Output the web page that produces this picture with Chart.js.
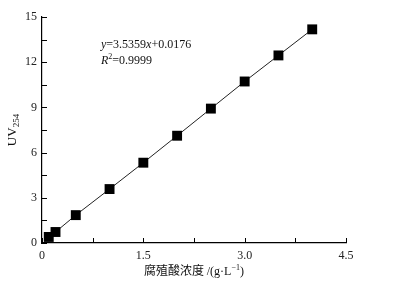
<!DOCTYPE html>
<html>
<head>
<meta charset="utf-8">
<script src="https://cdn.jsdelivr.net/npm/chart.js@4"></script>
<style>
  html, body { margin: 0; padding: 0; background: #fff; }
  #wrap { width: 393px; height: 288px; position: relative; }
</style>
</head>
<body>
<div id="wrap"><canvas id="uvChart"></canvas></div>
<script>
// Data
const concentration = [0.1, 0.2, 0.5, 1.0, 1.5, 2.0, 2.5, 3.0, 3.5, 4.0];
const uv254 = [0.40, 0.73, 1.85, 3.58, 5.33, 7.12, 8.92, 10.72, 12.45, 14.18];
const xTickLabels = ['0', '1.5', '3.0', '4.5'];
const yTickLabels = ['0', '3', '6', '9', '12', '15'];

const serif = '"Liberation Serif", "DejaVu Serif", serif';

// inward ticks, axis titles and the regression note
const decorPlugin = {
  id: 'decor',
  afterDraw(chart) {
    const ctx = chart.ctx;
    const xs = chart.scales.x;
    const ys = chart.scales.y;
    const area = chart.chartArea;
    ctx.save();
    ctx.strokeStyle = '#000';
    ctx.lineWidth = 1;
    ctx.beginPath();
    xs.ticks.forEach(t => {
      const px = Math.round(xs.getPixelForValue(t.value)) + 0.5;
      ctx.moveTo(px, area.bottom);
      ctx.lineTo(px, area.bottom - 5);
    });
    ys.ticks.forEach(t => {
      const py = Math.round(ys.getPixelForValue(t.value)) + 0.5;
      ctx.moveTo(area.left, py);
      ctx.lineTo(area.left + 5, py);
    });
    ctx.stroke();

    ctx.fillStyle = '#111';
    ctx.textBaseline = 'alphabetic';

    // x title
    const cx = (area.left + area.right) / 2;
    const main = '腐殖酸浓度 /(g·L';
    ctx.font = '12px "Noto Sans CJK SC", sans-serif';
    const cjkPart = '腐殖酸浓度 ';
    const w1 = ctx.measureText(cjkPart).width;
    ctx.font = '12px ' + serif;
    const rest = '/(g·L';
    const w2 = ctx.measureText(rest).width;
    ctx.font = '8px ' + serif;
    const w3 = ctx.measureText('−1').width;
    ctx.font = '12px ' + serif;
    const w4 = ctx.measureText(')').width;
    let x0 = cx - (w1 + w2 + w3 + w4) / 2;
    const by = 275;
    ctx.textAlign = 'left';
    ctx.font = '12px "Noto Sans CJK SC", sans-serif';
    ctx.fillText(cjkPart, x0, by);
    x0 += w1;
    ctx.font = '12px ' + serif;
    ctx.fillText(rest, x0, by);
    x0 += w2;
    ctx.font = '8px ' + serif;
    ctx.fillText('−1', x0, by - 5);
    x0 += w3;
    ctx.font = '12px ' + serif;
    ctx.fillText(')', x0, by);

    // y title, rotated
    ctx.save();
    ctx.translate(16, (area.top + area.bottom) / 2);
    ctx.rotate(-Math.PI / 2);
    ctx.font = '13px ' + serif;
    const wUV = ctx.measureText('UV').width;
    ctx.font = '9px ' + serif;
    const wSub = ctx.measureText('254').width;
    const sx = -(wUV + wSub) / 2;
    ctx.font = '13px ' + serif;
    ctx.fillText('UV', sx, 0);
    ctx.font = '9px ' + serif;
    ctx.fillText('254', sx + wUV, 3);
    ctx.restore();

    // regression note
    const parts1 = [
      ['y', 'italic 12px '], ['=3.5359', '12px '], ['x', 'italic 12px '], ['+0.0176', '12px ']
    ];
    let tx = 101;
    parts1.forEach(([s, f]) => {
      ctx.font = f + serif;
      ctx.fillText(s, tx, 48);
      tx += ctx.measureText(s).width;
    });
    tx = 101;
    ctx.font = 'italic 12px ' + serif;
    ctx.fillText('R', tx, 64);
    tx += ctx.measureText('R').width;
    ctx.font = '8px ' + serif;
    ctx.fillText('2', tx, 59);
    tx += ctx.measureText('2').width;
    ctx.font = '12px ' + serif;
    ctx.fillText('=0.9999', tx, 64);
    ctx.restore();
  }
};

function initChart() {
  const ctx = document.getElementById('uvChart').getContext('2d');
  new Chart(ctx, {
    type: 'scatter',
    data: {
      datasets: [{
        data: concentration.map((c, i) => ({ x: c, y: uv254[i] })),
        showLine: true,
        borderColor: '#222',
        borderWidth: 1,
        backgroundColor: '#000',
        pointStyle: 'rect',
        pointRadius: 7,
        pointBorderWidth: 0,
        tension: 0
      }]
    },
    options: {
      responsive: true,
      maintainAspectRatio: false,
      animation: false,
      devicePixelRatio: 1,
      layout: { padding: { top: 17, right: 47, left: 0, bottom: 0 } },
      plugins: { legend: { display: false }, tooltip: { enabled: false } },
      scales: {
        x: {
          type: 'linear',
          min: 0,
          max: 4.5,
          afterFit: s => { s.height = 45; },
          border: { display: true, color: '#000', width: 1.2 },
          grid: { display: false, drawTicks: false },
          ticks: {
            stepSize: 0.75,
            padding: 6,
            color: '#222',
            font: { family: serif, size: 12 },
            maxRotation: 0,
            autoSkip: false,
            callback: v => {
              const i = Math.round(v / 1.5);
              return Math.abs(v - i * 1.5) < 1e-6 ? xTickLabels[i] : '';
            }
          }
        },
        y: {
          type: 'linear',
          min: 0,
          max: 15,
          afterFit: s => { s.width = 42; },
          border: { display: true, color: '#000', width: 1.2 },
          grid: { display: false, drawTicks: false },
          ticks: {
            stepSize: 1.5,
            padding: 5,
            color: '#222',
            font: { family: serif, size: 12 },
            autoSkip: false,
            callback: v => {
              const i = Math.round(v / 3);
              return Math.abs(v - i * 3) < 1e-6 ? yTickLabels[i] : '';
            }
          }
        }
      }
    },
    plugins: [decorPlugin]
  });
}

window.addEventListener('load', initChart);
</script>
</body>
</html>
